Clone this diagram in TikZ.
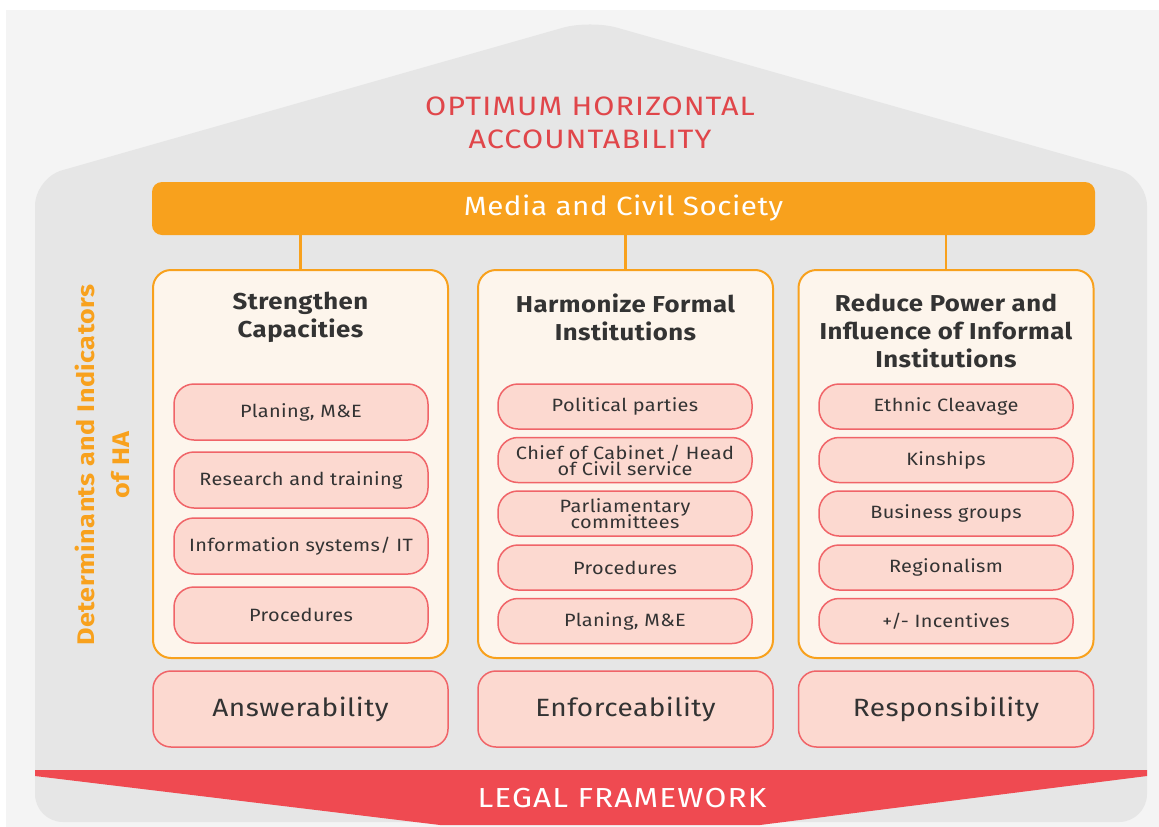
\documentclass[tikz,border=0pt]{standalone}
\usepackage{fontspec}
\setmainfont[FakeStretch=1.12,LetterSpace=2]{Fira Sans}
\newfontfamily\capsfont[FakeStretch=1.15,LetterSpace=4]{Fira Sans}
\usetikzlibrary{positioning}
\definecolor{bgGray}{HTML}{F4F4F4}
\definecolor{houseGray}{HTML}{E6E6E6}
\definecolor{haOrange}{HTML}{F8A11D}
\definecolor{haCream}{HTML}{FDF5EC}
\definecolor{haPink}{HTML}{FCD9D0}
\definecolor{haRed}{HTML}{F06468}
\definecolor{bandRed}{HTML}{EF4A51}
\definecolor{titleRed}{HTML}{E0464A}
\definecolor{haText}{HTML}{333333}
\begin{document}
\begin{tikzpicture}[x=1pt,y=-1pt,line join=round,
	panel/.style={draw=haOrange,fill=haCream,line width=2pt,rounded corners=18pt,minimum width=295pt,minimum height=388pt},
	ptitle/.style={align=center,text=haText,font=\bfseries\fontsize{23}{28}\selectfont},
	item/.style={draw=haRed,fill=haPink,line width=1.5pt,rounded corners=20pt,minimum width=254pt,text=haText,align=center,font=\fontsize{17.8}{19}\selectfont},
	tall/.style={item,minimum height=56pt},
	short/.style={item,minimum height=45pt},
	pillar/.style={draw=haRed,fill=haPink,line width=1.5pt,rounded corners=18pt,minimum width=295pt,minimum height=76pt,text=haText,font=\fontsize{25}{27}\selectfont}]
	\useasboundingbox (0,0) rectangle (1159,827);
	\fill[bgGray] (6,10) rectangle (1159,827);
	% house
	\fill[houseGray,rounded corners=28pt] (35,822) -- (35,178) -- (590,20) -- (1147,178) -- (1147,822) -- cycle;
	\node[text=titleRed,align=center,font=\capsfont\fontsize{26.6}{33}\selectfont] (goal) at (590,123) {OPTIMUM HORIZONTAL\\ACCOUNTABILITY};
	% media bar
	\node[fill=haOrange,rounded corners=10pt,minimum width=943pt,minimum height=53pt,text=white,font=\fontsize{26.4}{28}\selectfont] (media) at (623.5,208.5) {Media and Civil Society};
	% panels
	\node[panel] (p1) at (300.5,464) {};
	\node[panel] (p2) at (625.5,464) {};
	\node[panel] (p3) at (946,464) {};
	\foreach \p in {p1,p2,p3}
		\draw[haOrange,line width=2.6pt] (media.south -| \p.north) -- (\p.north);
	\node[ptitle] (t1) at (300.5,317) {Strengthen\\Capacities};
	\node[ptitle] (t2) at (625.5,317) {Harmonize Formal\\Institutions};
	\node[ptitle] (t3) at (946,331) {Reduce Power and\\Influence of Informal\\Institutions};
	% strengthen capacities
	\node[tall] (a1) at (301,412) {Planing, M\&E};
	\node[tall] (a2) at (301,480) {Research and training};
	\node[tall] (a3) at (301,546) {Information systems/ IT};
	\node[tall] (a4) at (301,615) {Procedures};
	% formal institutions
	\node[short] (b1) at (625,406.5) {Political parties};
	\node[short] (b2) at (625,460) {Chief of Cabinet / Head\\[-3pt]of Civil service};
	\node[short] (b3) at (625,513.5) {Parliamentary\\[-3pt]committees};
	\node[short] (b4) at (625,567.5) {Procedures};
	\node[short] (b5) at (625,621) {Planing, M\&E};
	% informal institutions
	\node[short] (c1) at (946,406.5) {Ethnic Cleavage};
	\node[short] (c2) at (946,460) {Kinships};
	\node[short] (c3) at (946,513.5) {Business groups};
	\node[short] (c4) at (946,567.5) {Regionalism};
	\node[short] (c5) at (946,621) {+/- Incentives};
	% pillars
	\node[pillar] (answer) at (300.5,709) {Answerability};
	\node[pillar] (enforce) at (625.5,709) {Enforceability};
	\node[pillar] (respons) at (946,709) {Responsibility};
	% side label
	\node[rotate=90,text=haOrange,align=center,font=\bfseries\fontsize{24}{35}\selectfont] (det) at (102,465) {Determinants and Indicators\\of HA};
	% legal framework
	\fill[bandRed] (35,770) -- (1147,770) -- (1147,776) -- (760,825) -- (440,825) -- (35,776) -- cycle;
	\node[text=white,font=\capsfont\fontsize{27.5}{30}\selectfont] (legal) at (622,798) {LEGAL FRAMEWORK};
\end{tikzpicture}
\end{document}
